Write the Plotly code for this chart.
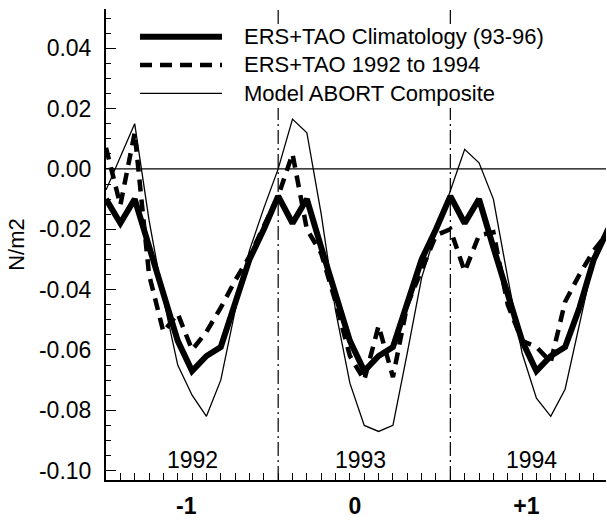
import plotly.graph_objects as go

# Monthly index, Jan 1992 = 0 ... Dec 1994 = 35
months = list(range(36))

clim_9396 = [-0.010, -0.018, -0.010, -0.026, -0.042, -0.057, -0.067, -0.062, -0.059, -0.045, -0.030, -0.020,
             -0.009, -0.018, -0.010, -0.026, -0.042, -0.057, -0.067, -0.062, -0.059, -0.045, -0.030, -0.020,
             -0.009, -0.018, -0.010, -0.026, -0.042, -0.057, -0.067, -0.062, -0.059, -0.046, -0.030, -0.020]

ers_tao_9294 = [0.007, -0.012, 0.012, -0.035, -0.054, -0.048, -0.060, -0.054, -0.046, -0.037, -0.029, -0.019,
                -0.009, 0.005, -0.020, -0.028, -0.044, -0.062, -0.070, -0.052, -0.069, -0.045, -0.033, -0.022,
                -0.020, -0.034, -0.022, -0.021, -0.045, -0.057, -0.059, -0.064, -0.044, -0.035, -0.027, -0.021]

model_abort = [-0.007, 0.004, 0.015, -0.017, -0.043, -0.065, -0.075, -0.082, -0.070, -0.047, -0.027, -0.013,
               0.000, 0.0165, 0.012, -0.015, -0.047, -0.071, -0.085, -0.087, -0.085, -0.061, -0.036, -0.021,
               -0.007, 0.0065, 0.002, -0.010, -0.036, -0.061, -0.076, -0.082, -0.073, -0.051, -0.030, -0.018]

series_names = ["ERS+TAO Climatology (93-96)", "ERS+TAO 1992 to 1994", "Model ABORT Composite"]

year_labels = ["1992", "1993", "1994"]
year_label_x = [6.0, 17.75, 29.67]
year_label_y = -0.0965

xtick_vals = [5.6, 17.35, 29.3]
xtick_text = ["-1", "0", "+1"]
ytick_vals = [-0.10, -0.08, -0.06, -0.04, -0.02, 0.00, 0.02, 0.04]
ytick_text = ["-0.10", "-0.08", "-0.06", "-0.04", "-0.02", "0.00", "0.02", "0.04"]
year_bounds = [12, 24]

X_RANGE = [0, 34.85]
Y_RANGE = [-0.1031, 0.0530]

FONT = "Liberation Sans, Arial, Helvetica, sans-serif"

# plot-area geometry in pixels
W, H = 607, 520
L, R, T, B = 106, 1, 9, 40
PW, PH = W - L - R, H - T - B


def px(x):
    return (x - L) / PW


def py(y):
    return (H - B - y) / PH


fig = go.Figure()
fig.add_trace(go.Scatter(x=months, y=model_abort, mode="lines", name=series_names[2],
                         line=dict(color="black", width=1.3), showlegend=False))
fig.add_trace(go.Scatter(x=months, y=ers_tao_9294, mode="lines", name=series_names[1],
                         line=dict(color="black", width=4.5, dash="12px,8px"), showlegend=False))
fig.add_trace(go.Scatter(x=months, y=clim_9396, mode="lines", name=series_names[0],
                         line=dict(color="black", width=6), showlegend=False))

shapes = []
# zero line
shapes.append(dict(type="line", xref="paper", yref="y", x0=0, x1=1, y0=0, y1=0,
                   line=dict(color="black", width=1.2), layer="below"))
# year boundaries
for xb in year_bounds:
    shapes.append(dict(type="line", xref="x", yref="paper", x0=xb, x1=xb, y0=0, y1=1,
                       line=dict(color="black", width=1.2, dash="14px,4px,2px,4px"), layer="below"))
# legend backing
shapes.append(dict(type="rect", xref="paper", yref="paper", x0=px(128), x1=px(575), y0=py(108), y1=py(26),
                   fillcolor="white", line=dict(width=0), layer="below"))
# legend samples
leg_rows = [36.7, 65.0, 93.3]
leg_styles = [dict(width=6, dash="solid"), dict(width=4.5, dash="12px,8px"), dict(width=1.3, dash="solid")]
annotations = []
for yy, st, nm in zip(leg_rows, leg_styles, series_names):
    shapes.append(dict(type="line", xref="paper", yref="paper", x0=px(140), x1=px(222), y0=py(yy), y1=py(yy),
                       line=dict(color="black", **st)))
    annotations.append(dict(xref="paper", yref="paper", x=px(242), y=py(yy), text=nm, showarrow=False,
                            xanchor="left", yanchor="middle", font=dict(family=FONT, size=22, color="black")))

for lab, xl in zip(year_labels, year_label_x):
    annotations.append(dict(xref="x", yref="y", x=xl, y=year_label_y, text=lab, showarrow=False,
                            xanchor="center", yanchor="middle", font=dict(family=FONT, size=23, color="black")))

fig.update_layout(
    width=W, height=H,
    margin=dict(l=L, r=R, t=T, b=B, pad=0, autoexpand=False),
    paper_bgcolor="white", plot_bgcolor="white",
    font=dict(family=FONT, color="black"),
    shapes=shapes, annotations=annotations,
    showlegend=False,
    # bottom/left axes carry the labels; top/right copies carry the mirrored ticks
    xaxis=dict(
        range=X_RANGE, showgrid=False, zeroline=False, automargin=False,
        showline=True, linecolor="black", linewidth=2.2,
        tickmode="array", tickvals=xtick_vals, ticktext=xtick_text,
        ticks="inside", ticklen=0,
        tickfont=dict(family=FONT, size=23, color="black", weight="bold"),
        ticklabelstandoff=4,
        minor=dict(tickmode="array", tickvals=months, ticks="inside", ticklen=7, tickcolor="black", tickwidth=1.2),
    ),
    xaxis2=dict(
        range=X_RANGE, overlaying="x", side="top", anchor="y", showgrid=False, zeroline=False, automargin=False,
        showline=True, linecolor="black", linewidth=1.5, showticklabels=False,
        tickmode="array", tickvals=months, ticks="inside", ticklen=7, tickcolor="black", tickwidth=1.2,
    ),
    yaxis=dict(
        range=Y_RANGE, showgrid=False, zeroline=False, automargin=False,
        showline=True, linecolor="black", linewidth=2,
        tickmode="array", tickvals=ytick_vals, ticktext=ytick_text,
        ticks="inside", ticklen=10, tickwidth=1.4, tickcolor="black",
        tickfont=dict(family=FONT, size=23, color="black"),
        ticklabelstandoff=8,
        minor=dict(dtick=0.005, tick0=0, ticks="inside", ticklen=5, tickcolor="black", tickwidth=1.2),
        title=dict(text="N/m2", font=dict(family=FONT, size=22, color="black"), standoff=8),
    ),
    yaxis2=dict(
        range=Y_RANGE, overlaying="y", side="right", anchor="x", showgrid=False, zeroline=False, automargin=False,
        showline=True, linecolor="black", linewidth=1.5, showticklabels=False,
        tickmode="array", tickvals=ytick_vals, ticks="inside", ticklen=10, tickwidth=1.4, tickcolor="black",
        minor=dict(dtick=0.005, tick0=0, ticks="inside", ticklen=5, tickcolor="black", tickwidth=1.2),
    ),
)

fig.write_html("out.html")
